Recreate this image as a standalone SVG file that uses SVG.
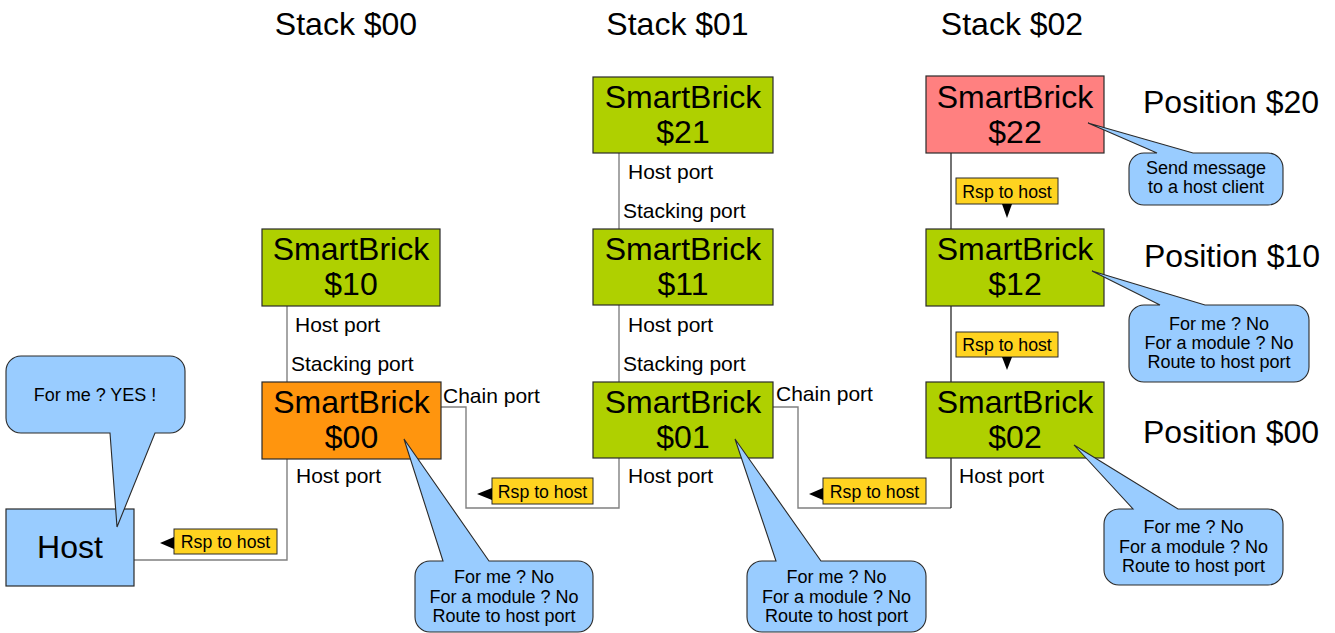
<svg xmlns="http://www.w3.org/2000/svg" width="1335" height="633" viewBox="0 0 1335 633">
  <style>
    text { font-family: "Liberation Sans", Arial, sans-serif; fill: #000; }
    .brick { stroke: #2a2a2a; stroke-width: 1.2; }
    .green { fill: #afd000; }
    .orange { fill: #ff950e; }
    .pink { fill: #ff8080; }
    .blue { fill: #99ccff; }
    .big { font-size: 32px; text-anchor: middle; }
    .title { font-size: 32px; text-anchor: middle; }
    .pos { font-size: 32px; }
    .port { font-size: 21px; }
    .bubble { fill: #99ccff; stroke: #2a2a2a; stroke-width: 1.1; }
    .note { font-size: 18px; text-anchor: middle; }
    .rsp rect { fill: #ffd320; stroke: #2a2a2a; stroke-width: 1; }
    .rsp text { font-size: 17.7px; text-anchor: middle; }
    .wire { fill: none; stroke: #808080; stroke-width: 1.4; }
    .wire-dark { fill: none; stroke: #000; stroke-width: 1.1; }
    .tri { fill: #000; }
  </style>

  <!-- column headings -->
  <text class="title" x="346" y="35">Stack $00</text>
  <text class="title" x="677.5" y="35">Stack $01</text>
  <text class="title" x="1012" y="35">Stack $02</text>

  <!-- row headings -->
  <text class="pos" x="1143" y="113">Position $20</text>
  <text class="pos" x="1144" y="267">Position $10</text>
  <text class="pos" x="1143" y="443">Position $00</text>

  <!-- wiring between bricks -->
  <g id="connectors">
    <polyline class="wire" points="134,560 287,560 287,459"/>
    <line class="wire" x1="287" y1="306" x2="287" y2="382"/>
    <polyline class="wire" points="441,407 466,407 466,508 619,508 619,458"/>
    <line class="wire" x1="619" y1="153" x2="619" y2="229"/>
    <line class="wire" x1="619" y1="305" x2="619" y2="382"/>
    <polyline class="wire" points="773,407 798,407 798,508 951,508"/>
    <line class="wire-dark" x1="951" y1="458" x2="951" y2="508"/>
    <line class="wire-dark" x1="951" y1="153" x2="951" y2="229"/>
    <line class="wire-dark" x1="951" y1="306" x2="951" y2="382"/>
  </g>

  <!-- port labels -->
  <g id="port-labels">
    <text class="port" x="295" y="332">Host port</text>
    <text class="port" x="291" y="371">Stacking port</text>
    <text class="port" x="296" y="483">Host port</text>
    <text class="port" x="443" y="403">Chain port</text>
    <text class="port" x="628" y="179">Host port</text>
    <text class="port" x="623" y="218">Stacking port</text>
    <text class="port" x="628" y="332">Host port</text>
    <text class="port" x="623" y="371">Stacking port</text>
    <text class="port" x="628" y="483">Host port</text>
    <text class="port" x="776" y="401">Chain port</text>
    <text class="port" x="959" y="483">Host port</text>
  </g>

  <!-- response flags -->
  <g id="rsp-0" class="rsp">
    <rect x="174" y="529" width="103" height="25"/>
    <text x="225.5" y="548">Rsp to host</text>
    <polygon class="tri" points="160,543 174,537 174,549"/>
  </g>
  <g id="rsp-1" class="rsp">
    <rect x="492" y="478" width="101" height="26"/>
    <text x="542.5" y="497.5">Rsp to host</text>
    <polygon class="tri" points="477,494 492,488 492,500"/>
  </g>
  <g id="rsp-2" class="rsp">
    <rect x="823" y="478" width="103" height="26"/>
    <text x="874.5" y="497.5">Rsp to host</text>
    <polygon class="tri" points="809,494 823,488 823,500"/>
  </g>
  <g id="rsp-3" class="rsp">
    <rect x="956" y="178" width="102" height="26"/>
    <text x="1007" y="197.5">Rsp to host</text>
    <polygon class="tri" points="1002,204 1012,204 1007,218"/>
  </g>
  <g id="rsp-4" class="rsp">
    <rect x="956" y="332" width="102" height="25"/>
    <text x="1007" y="351">Rsp to host</text>
    <polygon class="tri" points="1002,357 1012,357 1007,370"/>
  </g>

  <!-- bricks -->
  <g id="brick-10">
    <rect class="brick green" x="262" y="229" width="178" height="77"/>
    <text class="big" x="351" y="260">SmartBrick</text>
    <text class="big" x="351" y="295">$10</text>
  </g>
  <g id="brick-00">
    <rect class="brick orange" x="262" y="382" width="179" height="77"/>
    <text class="big" x="351.5" y="413">SmartBrick</text>
    <text class="big" x="351.5" y="448">$00</text>
  </g>
  <g id="brick-21">
    <rect class="brick green" x="593" y="77" width="180" height="76"/>
    <text class="big" x="683" y="108">SmartBrick</text>
    <text class="big" x="683" y="143">$21</text>
  </g>
  <g id="brick-11">
    <rect class="brick green" x="593" y="229" width="180" height="76"/>
    <text class="big" x="683" y="260">SmartBrick</text>
    <text class="big" x="683" y="295">$11</text>
  </g>
  <g id="brick-01">
    <rect class="brick green" x="593" y="382" width="180" height="76"/>
    <text class="big" x="683" y="413">SmartBrick</text>
    <text class="big" x="683" y="448">$01</text>
  </g>
  <g id="brick-22">
    <rect class="brick pink" x="926" y="76" width="178" height="77"/>
    <text class="big" x="1015" y="108">SmartBrick</text>
    <text class="big" x="1015" y="143">$22</text>
  </g>
  <g id="brick-12">
    <rect class="brick green" x="926" y="229" width="178" height="77"/>
    <text class="big" x="1015" y="260">SmartBrick</text>
    <text class="big" x="1015" y="295">$12</text>
  </g>
  <g id="brick-02">
    <rect class="brick green" x="926" y="382" width="178" height="76"/>
    <text class="big" x="1015" y="413">SmartBrick</text>
    <text class="big" x="1015" y="448">$02</text>
  </g>
  <g id="host">
    <rect class="brick blue" x="6" y="509" width="128" height="77"/>
    <text class="big" x="70" y="558">Host</text>
  </g>

  <!-- speech bubbles -->
  <g id="note-host">
    <path class="bubble" d="M21,356 L170,356 A15,15 0 0 1 185,371 L185,418 A15,15 0 0 1 170,433 L155,433 L117,527 L110,433 L21,433 A15,15 0 0 1 6,418 L6,371 A15,15 0 0 1 21,356 Z"/>
    <text class="note" x="95" y="401">For me ? YES !</text>
  </g>
  <g id="note-00">
    <path class="bubble" d="M430,561 L443,561 L404,439 L489,561 L578,561 A15,15 0 0 1 593,576 L593,617 A15,15 0 0 1 578,632 L430,632 A15,15 0 0 1 415,617 L415,576 A15,15 0 0 1 430,561 Z"/>
    <text class="note" x="504" y="583">For me ? No</text>
    <text class="note" x="504" y="603">For a module ? No</text>
    <text class="note" x="504" y="622">Route to host port</text>
  </g>
  <g id="note-01">
    <path class="bubble" d="M762,561 L776,561 L735,439 L821,561 L911,561 A15,15 0 0 1 926,576 L926,617 A15,15 0 0 1 911,632 L762,632 A15,15 0 0 1 747,617 L747,576 A15,15 0 0 1 762,561 Z"/>
    <text class="note" x="836.5" y="583">For me ? No</text>
    <text class="note" x="836.5" y="603">For a module ? No</text>
    <text class="note" x="836.5" y="622">Route to host port</text>
  </g>
  <g id="note-22">
    <path class="bubble" d="M1144,153 L1157,153 L1088,123 L1193,153 L1268,153 A15,15 0 0 1 1283,168 L1283,190 A15,15 0 0 1 1268,205 L1144,205 A15,15 0 0 1 1129,190 L1129,168 A15,15 0 0 1 1144,153 Z"/>
    <text class="note" x="1206" y="174">Send message</text>
    <text class="note" x="1206" y="193">to a host client</text>
  </g>
  <g id="note-12">
    <path class="bubble" d="M1144,305 L1160,305 L1092,271 L1205,305 L1294,305 A15,15 0 0 1 1309,320 L1309,367 A15,15 0 0 1 1294,382 L1144,382 A15,15 0 0 1 1129,367 L1129,320 A15,15 0 0 1 1144,305 Z"/>
    <text class="note" x="1219" y="330">For me ? No</text>
    <text class="note" x="1219" y="349">For a module ? No</text>
    <text class="note" x="1219" y="368">Route to host port</text>
  </g>
  <g id="note-02">
    <path class="bubble" d="M1119,509 L1133,509 L1074,445 L1178,509 L1268,509 A15,15 0 0 1 1283,524 L1283,570 A15,15 0 0 1 1268,585 L1119,585 A15,15 0 0 1 1104,570 L1104,524 A15,15 0 0 1 1119,509 Z"/>
    <text class="note" x="1193.5" y="533">For me ? No</text>
    <text class="note" x="1193.5" y="553">For a module ? No</text>
    <text class="note" x="1193.5" y="572">Route to host port</text>
  </g>
</svg>
